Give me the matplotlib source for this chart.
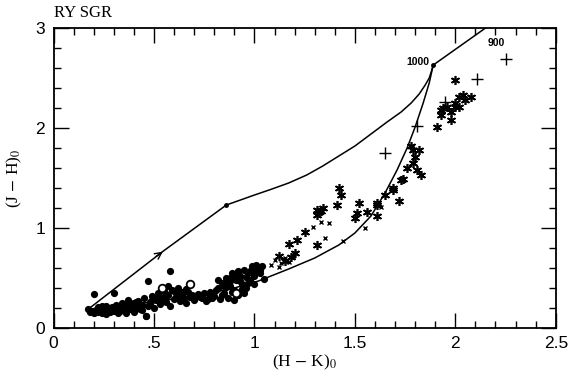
import numpy as np
import matplotlib
matplotlib.use("Agg")
import matplotlib.pyplot as plt
from matplotlib.ticker import MultipleLocator, FixedFormatter, FixedLocator

plt.rcParams['mathtext.fontset'] = 'stix'

# model tracks
upper_x = [0.18, 0.54, 0.86, 0.93, 1.00, 1.08, 1.17, 1.26, 1.34, 1.42, 1.50,
           1.58, 1.66, 1.73, 1.78, 1.82, 1.85, 1.87, 1.88, 1.89, 2.15]
upper_y = [0.20, 0.76, 1.23, 1.28, 1.33, 1.385, 1.45, 1.53, 1.62, 1.72, 1.82,
           1.94, 2.06, 2.16, 2.25, 2.34, 2.43, 2.50, 2.56, 2.63, 3.00]
lower_x = [0.18, 0.30, 0.45, 0.60, 0.75, 0.90, 1.02, 1.17, 1.30, 1.42, 1.50,
           1.58, 1.65, 1.71, 1.76, 1.80, 1.84, 1.87, 1.89]
lower_y = [0.19, 0.21, 0.25, 0.29, 0.34, 0.40, 0.47, 0.59, 0.70, 0.83, 0.95,
           1.12, 1.35, 1.58, 1.80, 2.01, 2.25, 2.45, 2.63]
knot_x = [0.86, 1.89]
knot_y = [1.23, 2.63]

# filled dots
dots_x = [0.17, 0.19, 0.20, 0.21, 0.22, 0.23, 0.24, 0.25, 0.26, 0.27, 0.28, 0.29,
          0.30, 0.31, 0.32, 0.33, 0.34, 0.35, 0.36, 0.37, 0.38, 0.39, 0.40, 0.41,
          0.42, 0.43, 0.44, 0.45, 0.46, 0.47, 0.48, 0.49, 0.50, 0.51, 0.52, 0.53,
          0.54, 0.55, 0.56, 0.57, 0.58, 0.59, 0.60, 0.61, 0.62, 0.63, 0.64, 0.65,
          0.66, 0.68, 0.70, 0.72, 0.74, 0.76, 0.78, 0.80, 0.82, 0.83, 0.84, 0.85,
          0.86, 0.87, 0.88, 0.89, 0.90, 0.91, 0.92, 0.93, 0.94, 0.95, 0.96, 0.97,
          0.98, 0.99, 1.00, 1.01, 1.02, 1.03, 1.04, 1.05, 1.00, 0.95, 0.90, 0.20,
          0.30, 0.47, 0.58, 0.46, 0.26, 0.33, 0.38, 0.43, 0.62, 0.66, 0.71, 0.79,
          0.88, 0.92, 0.97, 0.82, 0.86, 0.24, 0.36, 0.52, 0.57, 0.67,
          0.18, 0.22, 0.27, 0.31, 0.35, 0.40, 0.44, 0.49, 0.53, 0.56, 0.60, 0.64,
          0.69, 0.73, 0.77, 0.81, 0.84, 0.87, 0.89, 0.91, 0.93, 0.96, 0.98, 1.01,
          1.03, 0.85, 0.88, 0.92, 0.94, 0.99, 0.78, 0.75, 0.61, 0.55, 0.48, 0.41]
dots_y = [0.19, 0.17, 0.15, 0.18, 0.16, 0.20, 0.15, 0.17, 0.14, 0.19, 0.16, 0.21,
          0.17, 0.23, 0.15, 0.20, 0.25, 0.18, 0.22, 0.28, 0.19, 0.24, 0.16, 0.21,
          0.27, 0.19, 0.23, 0.30, 0.12, 0.22, 0.26, 0.32, 0.20, 0.28, 0.35, 0.24,
          0.30, 0.37, 0.26, 0.33, 0.22, 0.38, 0.29, 0.35, 0.40, 0.27, 0.33, 0.30,
          0.25, 0.31, 0.28, 0.34, 0.30, 0.27, 0.36, 0.32, 0.40, 0.29, 0.45, 0.35,
          0.50, 0.30, 0.42, 0.55, 0.38, 0.48, 0.33, 0.52, 0.44, 0.58, 0.40, 0.55,
          0.48, 0.62, 0.52, 0.58, 0.60, 0.55, 0.62, 0.49, 0.44, 0.35, 0.28, 0.34,
          0.35, 0.47, 0.57, 0.12, 0.22, 0.17, 0.25, 0.21, 0.36, 0.39, 0.32, 0.30,
          0.47, 0.57, 0.45, 0.48, 0.41, 0.22, 0.15, 0.31, 0.42, 0.36,
          0.16, 0.21, 0.16, 0.19, 0.23, 0.25, 0.18, 0.28, 0.31, 0.34, 0.37, 0.36,
          0.33, 0.31, 0.29, 0.38, 0.33, 0.46, 0.36, 0.53, 0.47, 0.51, 0.57, 0.63,
          0.58, 0.42, 0.50, 0.56, 0.39, 0.56, 0.33, 0.35, 0.31, 0.29, 0.24, 0.26]

# open circles
open_x = [0.54, 0.68, 0.91]
open_y = [0.40, 0.44, 0.35]

# small crosses
xs_x = [1.08, 1.10, 1.13, 1.15, 1.17, 1.19, 1.29, 1.33, 1.35, 1.37, 1.44, 1.55,
        1.63, 1.12]
xs_y = [0.63, 0.68, 0.65, 0.70, 0.66, 0.72, 1.01, 1.06, 0.90, 1.05, 0.87, 1.00,
        1.21, 0.61]

# asterisks
ast_x = [1.42, 1.43, 1.41, 1.34, 1.32, 1.31, 1.31, 1.25, 1.21, 1.17, 1.31, 1.52,
         1.51, 1.50, 1.56, 1.61, 1.61, 1.61, 1.65, 1.69, 1.72, 1.74, 1.12, 1.69,
         1.73, 1.76, 1.79, 1.80, 1.79, 1.82, 1.78, 1.83, 1.81, 1.91, 1.98, 1.93,
         1.94, 1.93, 1.98, 2.00, 2.02, 2.00, 2.02, 2.04, 2.05, 2.08, 2.00, 1.96,
         1.15, 1.18, 1.20, 1.33]
ast_y = [1.40, 1.33, 1.23, 1.20, 1.16, 1.13, 1.18, 0.96, 0.88, 0.84, 0.83, 1.25,
         1.15, 1.10, 1.16, 1.25, 1.23, 1.12, 1.33, 1.38, 1.27, 1.49, 0.72, 1.40,
         1.48, 1.60, 1.65, 1.71, 1.78, 1.78, 1.82, 1.53, 1.58, 2.01, 2.08, 2.13,
         2.20, 2.18, 2.16, 2.21, 2.21, 2.25, 2.31, 2.33, 2.28, 2.31, 2.48, 2.21,
         0.67, 0.71, 0.75, 1.17]

# large plus signs
plus_x = [1.65, 1.81, 1.95, 2.11, 2.25]
plus_y = [1.75, 2.02, 2.26, 2.49, 2.69]

fig = plt.figure(figsize=(5.7, 3.74), dpi=100)
ax = fig.add_axes([0.094, 0.123, 0.881, 0.802])

ax.plot(upper_x, upper_y, color='black', lw=1.1)
ax.plot(lower_x, lower_y, color='black', lw=1.1)
ax.plot(knot_x, knot_y, 'o', color='black', ms=2.5)
ax.annotate('', xy=(0.555, 0.78), xytext=(0.50, 0.70),
            arrowprops=dict(arrowstyle='->', color='black', lw=1.0,
                            mutation_scale=12))

ax.plot(dots_x, dots_y, 'o', color='black', ms=5.2, mew=0)
ax.plot(open_x, open_y, 'o', mfc='white', mec='black', ms=5.5, mew=1.3)
ax.plot(xs_x, xs_y, 'x', color='black', ms=3, mew=1.0)
ax.plot(ast_x, ast_y, marker=(6, 2, 0), ls='none', color='black', ms=6.5, mew=1.2)
ax.plot(plus_x, plus_y, '+', color='black', ms=9, mew=1.0)

ax.text(1.87, 2.66, '1000', ha='right', va='center', fontsize=7.5,
        family='Liberation Sans', fontweight='bold')
ax.text(2.16, 2.85, '900', ha='left', va='center', fontsize=7.5,
        family='Liberation Sans', fontweight='bold')

ax.set_xlim(0, 2.5)
ax.set_ylim(0, 3)
ax.xaxis.set_major_locator(FixedLocator([0, 0.5, 1, 1.5, 2, 2.5]))
ax.xaxis.set_major_formatter(FixedFormatter(['0', '.5', '1', '1.5', '2', '2.5']))
ax.xaxis.set_minor_locator(MultipleLocator(0.1))
ax.yaxis.set_major_locator(MultipleLocator(1))
ax.yaxis.set_minor_locator(MultipleLocator(0.2))
ax.tick_params(which='both', direction='in', top=True, right=True, width=1.0,
               labelsize=12.5, pad=6)
ax.tick_params(which='major', length=11)
ax.tick_params(which='minor', length=5)
for lab in ax.get_xticklabels() + ax.get_yticklabels():
    lab.set_family('Liberation Sans')
for s in ax.spines.values():
    s.set_linewidth(1.3)

ax.set_xlabel(r'(H $-$ K)$_0$', fontsize=12.5, family='Liberation Serif', labelpad=1)
ax.set_ylabel(r'(J $-$ H)$_0$', fontsize=12.5, family='Liberation Serif', labelpad=8)
ax.text(0.0, 1.025, 'RY SGR', transform=ax.transAxes, fontsize=12,
        family='Liberation Serif', ha='left', va='bottom')

fig.savefig('out.png', dpi=100)
